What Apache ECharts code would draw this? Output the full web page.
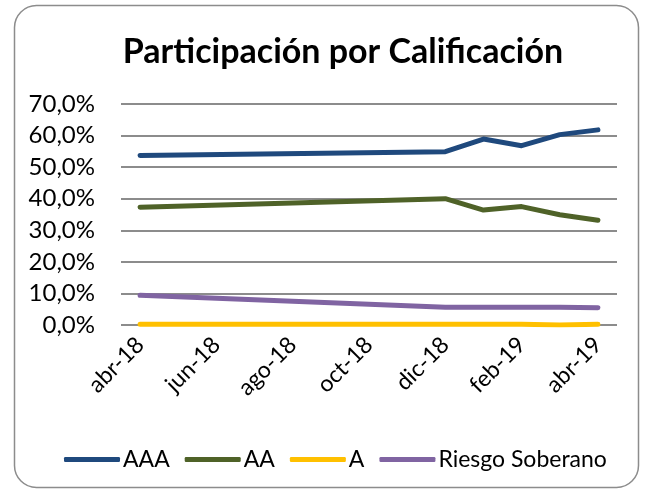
<!DOCTYPE html>
<html><head><meta charset="utf-8">
<script src="https://cdn.jsdelivr.net/npm/echarts@6/dist/echarts.min.js"></script>
<style>html,body{margin:0;padding:0;background:#fff}#c{width:648px;height:491px}</style>
</head><body><div id="c"></div>
<script>
const categories = ['abr-18','may-18','jun-18','jul-18','ago-18','sep-18','oct-18','nov-18','dic-18','ene-19','feb-19','mar-19','abr-19'];
const aaa = [53.7, null, null, null, null, null, null, null, 54.9, 58.9, 56.8, 60.3, 61.8];
const aa  = [37.3, null, null, null, null, null, null, null, 40.0, 36.4, 37.5, 34.9, 33.2];
const a   = [0.2, null, null, null, null, null, null, null, 0.2, 0.2, 0.2, 0.0, 0.2];
const rs  = [9.4, null, null, null, null, null, null, null, 5.6, 5.6, 5.6, 5.6, 5.5];
const seriesNames = ['AAA','AA','A','Riesgo Soberano'];
const colors = ['#1f497d','#4f6228','#ffc000','#8064a2'];
const FONT = 'Lato';
const chart = echarts.init(document.getElementById('c'));
const mk = (name, data, color) => ({
  name, type: 'line', data, connectNulls: true, showSymbol: false, symbol: 'none',
  lineStyle: { width: 5, color, cap: 'round', join: 'round' }, itemStyle: { color },
  animation: false
});
chart.setOption({
  animation: false,
  color: colors,
  graphic: [{ type: 'rect', shape: { x: 14.5, y: 5.5, width: 624, height: 482, r: 22 },
    style: { fill: 'none', stroke: '#8c8c8c', lineWidth: 1.5 }, silent: true }],
  title: { text: 'Participación por Calificación', left: 338, textAlign: 'center', top: 30,
    textStyle: { fontFamily: FONT, fontWeight: 'bold', fontSize: 34, color: '#000' } },
  grid: { left: 121, right: 31, top: 104, bottom: 166 },
  legend: { bottom: 15, left: 59, itemWidth: 56, itemHeight: 5, itemGap: 15,
    icon: 'roundRect',
    textStyle: { fontFamily: FONT, fontSize: 23, color: '#000', padding: [0, 0, 0, -2] },
    data: seriesNames },
  xAxis: { type: 'category', data: categories, boundaryGap: true,
    axisLine: { show: false }, axisTick: { show: false },
    axisLabel: { interval: 1, rotate: 45, fontFamily: FONT, fontSize: 23, color: '#000', margin: 16 } },
  yAxis: { type: 'value', min: 0, max: 70, interval: 10,
    axisLine: { show: false }, axisTick: { show: false },
    splitLine: { lineStyle: { color: '#8c8c8c', width: 2 } },
    axisLabel: { fontFamily: FONT, fontSize: 24, color: '#000', margin: 26,
      formatter: v => v.toFixed(1).replace('.', ',') + '%' } },
  series: [mk(seriesNames[0], aaa, colors[0]), mk(seriesNames[1], aa, colors[1]),
           mk(seriesNames[2], a, colors[2]), mk(seriesNames[3], rs, colors[3])]
});
</script></body></html>
